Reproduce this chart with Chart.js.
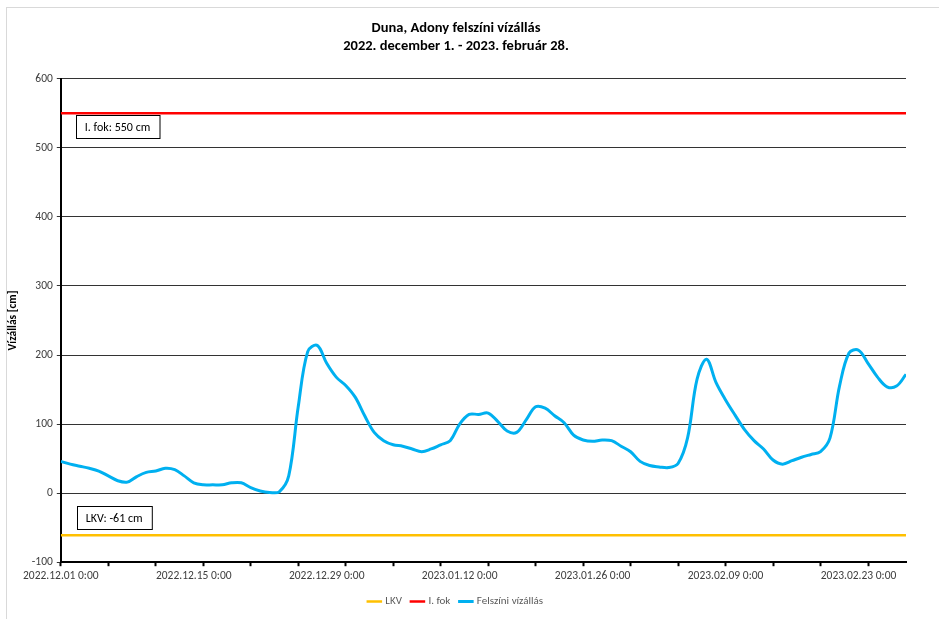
<!DOCTYPE html>
<html>
<head>
<meta charset="utf-8">
<script src="https://cdn.jsdelivr.net/npm/chart.js@4"></script>
<style>
    html, body { margin: 0; padding: 0; background: #fff; }
    #wrap { width: 939px; height: 619px; }
</style>
</head>
<body>
<div id="wrap"><canvas id="chart" width="939" height="619"></canvas></div>
<script>
// daily readings from 2022.12.01 (day 0) to 2023.02.28 (day 89), cm
const waterLevel = [
    46, 42, 39, 36, 32, 25, 18, 16, 24, 30,
    32, 36, 34, 25, 15, 12, 12, 12, 15, 15,
    8, 3, 1, 2, 25, 125, 205, 214, 188, 168,
    156, 139, 112, 88, 76, 70, 68, 64, 60, 64,
    70, 76, 100, 114, 114, 116, 104, 90, 88, 106,
    125, 123, 112, 102, 84, 77, 75, 77, 76, 68,
    60, 46, 40, 38, 37, 43, 80, 165, 194, 160,
    135, 113, 92, 76, 64, 48, 42, 47, 52, 56,
    60, 80, 155, 203, 207, 188, 168, 154, 155, 172
];
const lastDay = 89;

const lkvLevel = -61;
const fokLevel = 550;

const tickDays = [0, 14, 28, 42, 56, 70, 84];
const tickLabels = ["2022.12.01 0:00", "2022.12.15 0:00", "2022.12.29 0:00", "2023.01.12 0:00",
    "2023.01.26 0:00", "2023.02.09 0:00", "2023.02.23 0:00"];
const minorTickEvery = 5;

const seriesNames = ["LKV", "I. fok", "Felszíni vízállás"];
const seriesColors = ["#FFC000", "#FF0000", "#00B0F0"];

const fontFamily = "Carlito, Lato, 'Liberation Sans', sans-serif";

function drawBox(ctx, x, y, text) {
    const w = ctx.measureText(text).width + 18;
    const h = 23;
    ctx.fillStyle = "#fff";
    ctx.fillRect(x, y, w, h);
    ctx.strokeStyle = "#000";
    ctx.lineWidth = 1;
    ctx.strokeRect(Math.round(x) + 0.5, Math.round(y) + 0.5, w, h);
    ctx.fillStyle = "#000";
    ctx.textBaseline = "middle";
    ctx.fillText(text, x + 9, y + h / 2 + 1);
}

const extras = {
    id: "extras",
    beforeDraw(chart) {
        const ctx = chart.ctx;
        ctx.save();
        ctx.strokeStyle = "#d9d9d9";
        ctx.lineWidth = 1;
        ctx.strokeRect(6.5, 7.5, 960, 640);
        ctx.restore();
    },
    afterDatasetsDraw(chart) {
        const { ctx, chartArea, scales } = chart;
        ctx.save();
        ctx.font = "12px " + fontFamily;
        drawBox(ctx, chartArea.left + 15, scales.y.getPixelForValue(fokLevel) + 2, "I. fok: " + fokLevel + " cm");
        drawBox(ctx, chartArea.left + 16, scales.y.getPixelForValue(lkvLevel) - 29, "LKV: " + lkvLevel + " cm");
        ctx.restore();
    }
};

const flatLine = (v) => [{ x: 0, y: v }, { x: lastDay, y: v }];

new Chart(document.getElementById("chart"), {
    type: "line",
    data: {
        datasets: [
            {
                label: seriesNames[0],
                data: flatLine(lkvLevel),
                borderColor: seriesColors[0],
                backgroundColor: seriesColors[0],
                borderWidth: 2.5,
                pointRadius: 0,
                order: 3
            },
            {
                label: seriesNames[1],
                data: flatLine(fokLevel),
                borderColor: seriesColors[1],
                backgroundColor: seriesColors[1],
                borderWidth: 2.5,
                pointRadius: 0,
                order: 2
            },
            {
                label: seriesNames[2],
                data: waterLevel.map((v, i) => ({ x: i, y: v })),
                borderColor: seriesColors[2],
                backgroundColor: seriesColors[2],
                borderWidth: 3,
                pointRadius: 0,
                tension: 0.35,
                order: 1
            }
        ]
    },
    options: {
        responsive: false,
        animation: false,
        layout: { padding: { left: 6, right: 33, top: 20, bottom: 2 } },
        plugins: {
            title: {
                display: true,
                text: ["Duna, Adony felszíni vízállás", "2022. december 1. - 2023. február 28."],
                color: "#000",
                font: { family: fontFamily, size: 14.5, weight: "bold", lineHeight: 1.2 },
                padding: { top: 0, bottom: 24 }
            },
            legend: {
                position: "bottom",
                labels: {
                    usePointStyle: true,
                    pointStyle: "line",
                    boxWidth: 25,
                    color: "#595959",
                    font: { family: fontFamily, size: 11 },
                    padding: 10,
                    sort: (a, b) => a.datasetIndex - b.datasetIndex
                }
            },
            tooltip: { enabled: false }
        },
        scales: {
            x: {
                type: "linear",
                min: 0,
                max: lastDay,
                afterBuildTicks(axis) {
                    const t = [];
                    for (let d = 0; d <= lastDay; d++) t.push({ value: d });
                    axis.ticks = t;
                },
                ticks: {
                    autoSkip: false,
                    maxRotation: 0,
                    color: "#404040",
                    font: { family: fontFamily, size: 11.5 },
                    padding: 3,
                    callback: (v) => {
                        const k = tickDays.indexOf(v);
                        return k >= 0 ? tickLabels[k] : "";
                    }
                },
                grid: {
                    drawOnChartArea: false,
                    tickLength: 4,
                    tickWidth: 2,
                    tickColor: (c) => c.tick && c.tick.value % minorTickEvery === 0 ? "#000" : "rgba(0,0,0,0)"
                },
                border: { color: "#000", width: 2 }
            },
            y: {
                min: -100,
                max: 600,
                ticks: {
                    stepSize: 100,
                    color: "#404040",
                    font: { family: fontFamily, size: 11.5 },
                    padding: 4
                },
                grid: {
                    color: "#333",
                    lineWidth: 1,
                    tickLength: 4
                },
                border: { color: "#000", width: 2 },
                title: {
                    display: true,
                    text: "Vízállás [cm]",
                    color: "#000",
                    font: { family: fontFamily, size: 11.5, weight: "bold" },
                    padding: { top: 0, bottom: 8 }
                }
            }
        }
    },
    plugins: [extras]
});
</script>
</body>
</html>
